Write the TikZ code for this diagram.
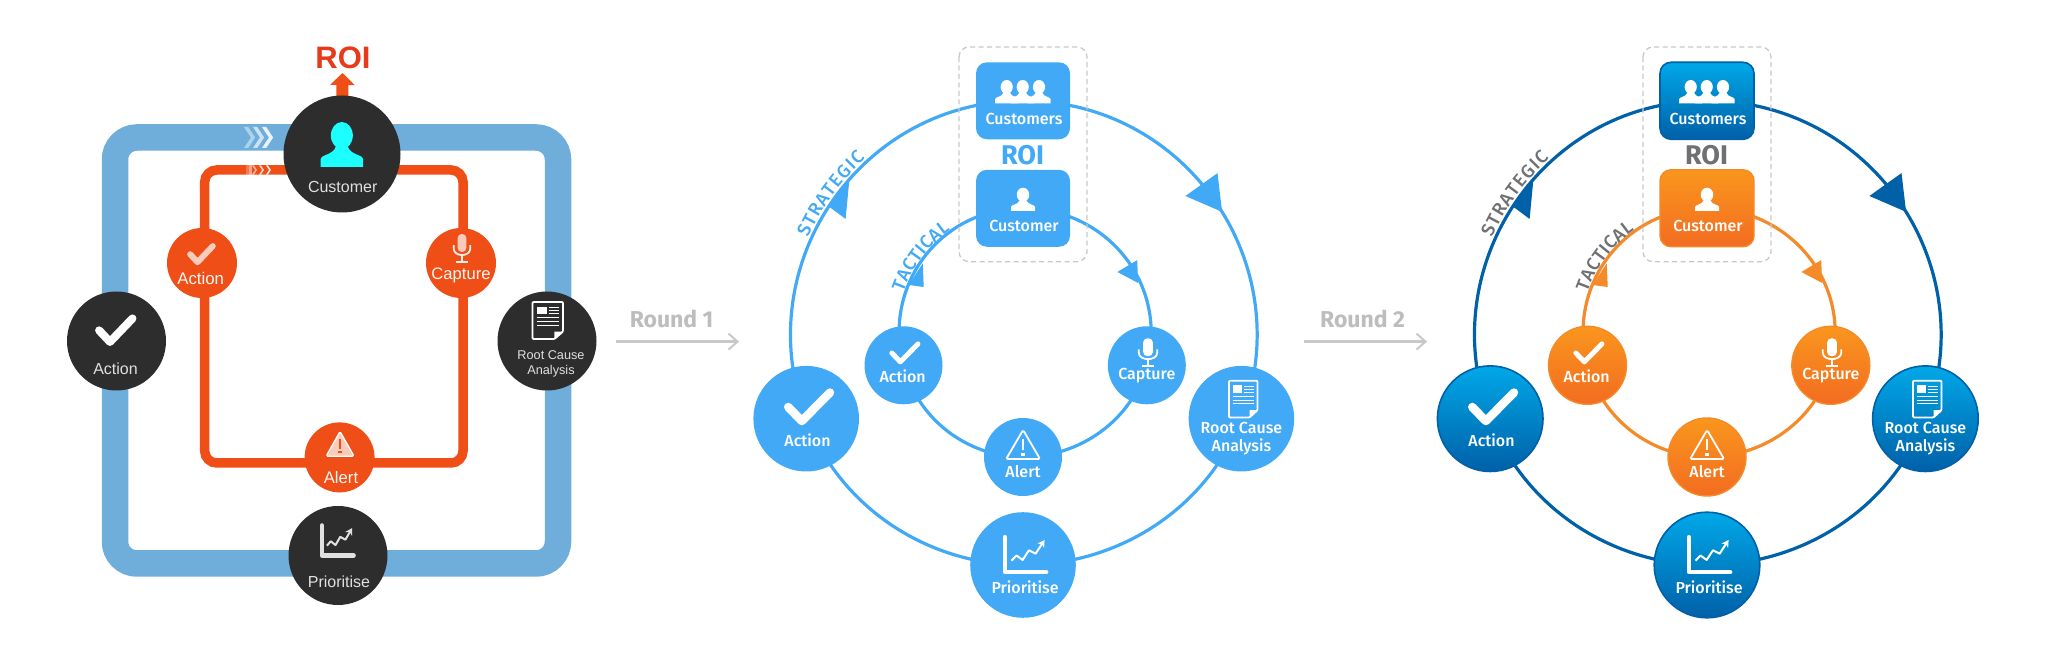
\documentclass[tikz,border=0pt]{standalone}
\usepackage{fontspec}
\usetikzlibrary{arrows.meta,decorations.text}
\newfontfamily\din{Fira Sans Medium}
\newfontfamily\dinb{Fira Sans}
\newfontfamily\arl{Liberation Sans}
\definecolor{ringblue}{HTML}{6FAEDB}
\definecolor{hotorange}{HTML}{EF4E16}
\definecolor{roired}{HTML}{E63A1A}
\definecolor{coal}{HTML}{2D2D2D}
\definecolor{cyanhead}{HTML}{1DFFFF}
\definecolor{pinkish}{HTML}{F9CBBB}
\definecolor{flatblue}{HTML}{42A9F6}
\definecolor{deepblue}{HTML}{0060A8}
\definecolor{topblue}{HTML}{00A8E8}
\definecolor{orangetop}{HTML}{F9961D}
\definecolor{orangebot}{HTML}{F36C21}
\definecolor{orangeline}{HTML}{F58A2A}
\definecolor{softgray}{HTML}{BDBDBD}
\definecolor{dashgray}{HTML}{C8C8C8}
\definecolor{labelgray}{HTML}{6E7072}
\pgfdeclarelayer{back}
\pgfsetlayers{back,main}
\tikzset{
  x=1pt,y=1pt,
  dball/.style={circle,fill=coal,inner sep=0pt,minimum size=99pt},
  oball/.style={circle,fill=hotorange,inner sep=0pt,minimum size=70pt},
  bigball/.style={circle,inner sep=0pt,minimum size=105.6pt},
  smallball/.style={circle,inner sep=0pt,minimum size=78pt},
  roundbox/.style={rectangle,rounded corners=11pt,inner sep=0pt,minimum width=94pt,minimum height=77pt},
  flatfill/.style={fill=flatblue},
  gradblue/.style={top color=topblue,bottom color=deepblue,draw=deepblue,line width=1.6pt},
  gradorange/.style={top color=orangetop,bottom color=orangebot,draw=orangeline,line width=1.4pt},
  arltext/.style={font=\arl\fontsize{16}{18}\selectfont,text=#1,inner sep=0pt,align=center},
  dintext/.style={font=\din\fontsize{16}{18.5}\selectfont,text=white,inner sep=0pt,align=center},
  roundtext/.style={font=\dinb\bfseries\fontsize{23}{25}\selectfont,text=softgray,inner sep=0pt},
  roundarrow/.style={draw=dashgray,line width=2.4pt,-{Straight Barb[length=9pt,width=16pt,line width=2pt]}},
}
\newcommand\iconcheck[5]{\begin{scope}[shift={(#1,671-#2-#4)},x=#3pt,y=#4pt]
  \draw[#5,line cap=round,line join=round] (.09,.5) -- (.36,.13) -- (.92,.88);
\end{scope}}
\newcommand\iconperson[5]{\begin{scope}[shift={(#1,671-#2-#4)},x=#3pt,y=#4pt]
  \fill[#5] (.5,.7) ellipse [x radius=.26,y radius=.3];
  \fill[#5] (0,0) -- (0,.17) .. controls (0,.28) and (.3,.26) .. (.36,.46) -- (.64,.46) .. controls (.7,.26) and (1,.28) .. (1,.17) -- (1,0) -- cycle;
\end{scope}}
\newcommand\iconmic[6]{\begin{scope}[shift={(#1,671-#2-#4)},x=#3pt,y=#4pt]
  \fill[#5,rounded corners=4pt] (.26,.38) rectangle (.74,1);
  \draw[#6,line width=1.8pt] (.04,.62) -- (.04,.5) .. controls (.04,.2) and (.96,.2) .. (.96,.5) -- (.96,.62);
  \draw[#6,line width=1.8pt] (.5,.26) -- (.5,.04) (.18,.03) -- (.82,.03);
\end{scope}}
\newcommand\iconwarn[6]{\begin{scope}[shift={(#1,671-#2-#4)},x=#3pt,y=#4pt]
  \draw[#5,rounded corners=1.5pt,line join=round] (.5,.98) -- (.02,.03) -- (.98,.03) -- cycle;
  \draw[#6,line width=2.4pt] (.5,.68) -- (.5,.32);
  \fill[#6] (.44,.14) rectangle (.56,.24);
\end{scope}}
\newcommand\icondoc[6]{\begin{scope}[shift={(#1,671-#2-#4)},x=#3pt,y=#4pt]
  \draw[#5,line width=#6pt,line join=round,rounded corners=1pt] (0,0) -- (0,1) -- (1,1) -- (1,.2) -- (.72,0) -- cycle;
  \fill[#5] (1,.2) -- (.72,.2) -- (.72,0) -- cycle;
  \fill[#5] (.14,.67) rectangle (.46,.87);
  \draw[#5,line width=1pt] (.54,.85) -- (.87,.85) (.54,.77) -- (.87,.77) (.54,.69) -- (.87,.69) (.14,.57) -- (.87,.57) (.14,.47) -- (.87,.47) (.14,.37) -- (.87,.37);
\end{scope}}
\newcommand\iconchart[6]{\begin{scope}[shift={(#1,671-#2-#4)},x=#3pt,y=#4pt]
  \draw[#5,line width=#6pt,line join=round,line cap=round] (.04,1) -- (.04,.05) -- (.97,.05);
  \draw[#5,line width=2pt,line join=round,-{Stealth[length=7pt,width=8pt]}] (.19,.36) -- (.3,.5) -- (.44,.38) -- (.58,.64) -- (.73,.55) -- (.93,.92);
\end{scope}}
\newcommand\chev[4]{\fill[white,opacity=#4] (#1,671-#2-#3) -- (#1+.66*#3,671-#2) -- (#1,671-#2+#3) -- (#1+.4*#3,671-#2+#3) -- (#1+1.06*#3,671-#2) -- (#1+.4*#3,671-#2-#3) -- cycle;}
% #1 prefix #2 outer ball style #3 inner ball style #4 outer line #5 inner line #6 ROI colour #7 arc label colour
\newcommand\ringpanel[7]{
  \node[bigball,#2] (#1-act) at (806.2,671-418.7) {};
  \node[bigball,#2] (#1-root) at (1241.4,671-418.7) {};
  \node[bigball,#2] (#1-prio) at (1023,671-565) {};
  \node[smallball,#3] (#1-sact) at (903.5,671-365.3) {};
  \node[smallball,#3] (#1-cap) at (1146.8,671-365.3) {};
  \node[smallball,#3] (#1-alert) at (1023,671-457) {};
  \node[roundbox,#2] (#1-custs) at (1023,671-100.8) {};
  \node[roundbox,#3] (#1-cust) at (1023,671-208.3) {};
  \begin{pgfonlayer}{back}
    \draw[#4,line width=3.2pt] (#1-custs.center) to[out=0,in=69,looseness=1.087] (#1-root.center);
    \draw[#4,line width=3.2pt] (#1-root.center) to[out=-111,in=0,looseness=.933] (#1-prio.center);
    \draw[#4,line width=3.2pt] (#1-prio.center) to[out=180,in=-69,looseness=.933] (#1-act.center);
    \draw[#4,line width=3.2pt] (#1-act.center) to[out=111,in=180,looseness=1.087] (#1-custs.center);
    \draw[#5,line width=3.2pt] (#1-cust.center) to[out=0,in=75,looseness=1.07] (#1-cap.center);
    \draw[#5,line width=3.2pt] (#1-cap.center) to[out=-105,in=0,looseness=.945] (#1-alert.center);
    \draw[#5,line width=3.2pt] (#1-alert.center) to[out=180,in=-75,looseness=.945] (#1-sact.center);
    \draw[#5,line width=3.2pt] (#1-sact.center) to[out=105,in=180,looseness=1.07] (#1-cust.center);
  \end{pgfonlayer}
  \fill[#4] (1217.5,671-173.1) -- (1185.4,671-196) -- (1222.1,671-211.9) -- cycle;
  \fill[#4] (849.3,671-180.3) -- (828.2,671-206) -- (845.6,671-219) -- cycle;
  \fill[#5] (1137.2,671-260.1) -- (1117.4,671-272) -- (1138.1,671-283) -- cycle;
  \fill[#5] (922.8,671-263.3) -- (908.5,671-285) -- (923.7,671-287) -- cycle;
  \draw[dashgray,line width=1.3pt,dash pattern=on 5pt off 3.5pt,rounded corners=10pt] (959,671-47) rectangle (1087,671-261.7);
  \node[font=\dinb\bfseries\fontsize{27}{29}\selectfont,text=#6,inner sep=0pt] (#1-roi) at (1022.5,671-155) {ROI};
  \node[dintext] (#1-custs-t) at (1024,671-119) {Customers};
  \node[dintext] (#1-cust-t) at (1024,671-225.7) {Customer};
  \node[dintext] (#1-act-t) at (807.5,671-440.4) {Action};
  \node[dintext] (#1-root-t) at (1241.4,671-438.5) {Root Cause\\Analysis};
  \node[dintext] (#1-prio-t) at (1025,671-587.5) {Prioritise};
  \node[dintext] (#1-sact-t) at (902.6,671-376) {Action};
  \node[dintext] (#1-cap-t) at (1146.8,671-376) {Capture};
  \node[dintext] (#1-alert-t) at (1023,671-472) {Alert};
  \coordinate (#1-c) at (1023,671-333.7);
  \path[decorate,decoration={text along path,text align={fit to path},text={|\din\fontsize{18.5}{18.5}\selectfont\color{#7}|STRATEGIC}}]
    (#1-c) ++(156:235.5) arc[start angle=156,end angle=132,radius=235.5];
  \path[decorate,decoration={text along path,text align={fit to path},text={|\din\fontsize{18.5}{18.5}\selectfont\color{#7}|TACTICAL}}]
    (#1-c) ++(161:126.5) arc[start angle=161,end angle=125,radius=126.5];
  \iconperson{995}{80}{23.4}{23.3}{white}
  \iconperson{1011}{80}{23.4}{23.3}{white}
  \iconperson{1027.3}{80}{23.4}{23.3}{white}
  \iconperson{1011}{187.7}{24}{23.3}{white}
  \iconcheck{783.7}{388}{50.3}{38}{white,line width=8.5pt}
  \iconcheck{889}{341}{31.5}{24}{white,line width=5pt}
  \icondoc{1229}{380.7}{28.5}{36.8}{white}{1.8}
  \iconchart{1003}{537}{44.7}{37}{white}{4}
  \iconmic{1138}{338.4}{20}{28.6}{white}{white}
  \iconwarn{1005.4}{429.4}{35.4}{30.6}{white,line width=1.8pt}{white}
}
\begin{document}
\begin{tikzpicture}
\useasboundingbox (0,0) rectangle (2053,671);
% left panel
\coordinate (bnw) at (115,671-137.5);
\coordinate (bse) at (558,671-563.5);
\coordinate (onw) at (204.7,671-170);
\coordinate (ose) at (463,671-463);
\coordinate (roitip) at (342.5,671-73);
\node[dball,minimum size=117pt] (cust) at (342,671-154) {};
\node[dball] (act) at (116.5,671-341) {};
\node[dball] (root) at (547,671-341) {};
\node[dball] (prio) at (338,671-555.5) {};
\node[oball] (oact) at (202,671-263) {};
\node[oball] (ocap) at (461,671-263) {};
\node[oball] (oalert) at (339.6,671-457.4) {};
\begin{pgfonlayer}{back}
  \draw[ringblue,line width=26.5pt,rounded corners=22pt] (bnw) rectangle (bse);
  \draw[hotorange,line width=9.5pt,rounded corners=12pt] (onw) rectangle (ose);
  \draw[hotorange,line width=12pt,-{Triangle[length=12pt,width=24pt]}] (cust.center) -- (roitip);
\end{pgfonlayer}
\chev{244}{137.5}{10.5}{.45}\chev{253}{137.5}{10.5}{.65}\chev{262}{137.5}{10.5}{.85}
\fill[white,opacity=.25] (246,671-165.2) rectangle (249,671-174.7);
\fill[white,opacity=.5] (249,671-165.2) rectangle (252,671-174.7);
\chev{252}{170}{4.7}{.6}\chev{259}{170}{4.7}{.8}\chev{266}{170}{4.7}{.9}
\node[font=\arl\bfseries\fontsize{31}{33}\selectfont,text=roired,inner sep=0pt] (roi) at (343,671-58) {ROI};
\iconperson{320.7}{122}{42.3}{45}{cyanhead}
\node[arltext=white!88!black] (cust-t) at (342.7,671-186.7) {Customer};
\iconcheck{95.5}{314.7}{40.2}{31.3}{white,line width=8pt}
\node[arltext=white!88!black] (act-t) at (115.5,671-369) {Action};
\icondoc{532.5}{302}{30.5}{37}{white}{1.8}
\node[arltext=white!88!black,font=\arl\fontsize{12.7}{15}\selectfont] (root-t) at (551,671-363.5) {Root Cause\\Analysis};
\iconchart{320.5}{525.5}{34.1}{31.5}{white!88!black}{4.5}
\node[arltext=white!88!black] (prio-t) at (339,671-581.6) {Prioritise};
\iconcheck{187.7}{243.5}{27.3}{21.5}{pinkish,line width=6pt}
\node[arltext=white!95!hotorange,font=\arl\fontsize{16.8}{18}\selectfont] (oact-t) at (200.7,671-279) {Action};
\iconmic{453}{234}{18}{29}{pinkish}{white!90!hotorange}
\node[arltext=white!95!hotorange,font=\arl\fontsize{16.6}{18}\selectfont] (ocap-t) at (461,671-275) {Capture};
\iconwarn{325.5}{431}{29.1}{26}{fill=pinkish,draw=white,line width=1.3pt}{hotorange}
\node[arltext=white!95!hotorange,font=\arl\fontsize{16.7}{18}\selectfont] (oalert-t) at (341,671-477.6) {Alert};
% round labels
\node[roundtext] (r1) at (671.6,671-318.6) {Round 1};
\coordinate (r1a) at (616,671-341.6);
\coordinate (r1b) at (739,671-341.6);
\draw[roundarrow] (r1a) -- (r1b);
\node[roundtext] (r2) at (1362.6,671-318.6) {Round 2};
\coordinate (r2a) at (1304.3,671-341.6);
\coordinate (r2b) at (1427,671-341.6);
\draw[roundarrow] (r2a) -- (r2b);
% panels
\ringpanel{m}{flatfill}{flatfill}{flatblue}{flatblue}{flatblue}{flatblue}
\begin{scope}[xshift=684pt]
\ringpanel{n}{gradblue}{gradorange}{deepblue}{orangeline}{labelgray}{labelgray}
\end{scope}
\end{tikzpicture}
\end{document}
